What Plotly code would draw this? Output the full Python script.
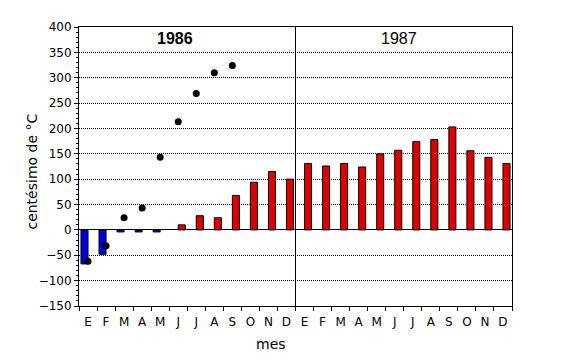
import plotly.graph_objects as go

months = ["E", "F", "M", "A", "M", "J", "J", "A", "S", "O", "N", "D"]
tick_labels = months + months
years = ["1986", "1987"]

# negative (blue) bars, 1986
neg_values = [-67, -48, -4, -4, -4, None, None, None, None, None, None, None] + [None] * 12
# positive (red) bars
pos_values = [None, None, None, None, None, 10, 28, 24, 68, 94, 115, 100,
              131, 126, 131, 124, 150, 157, 174, 178, 203, 156, 143, 131]
# black dots, 1986
dot_values = [-62, -31, 24, 43, 143, 213, 269, 310, 324]

x_idx = list(range(len(tick_labels)))
dot_x = list(range(len(dot_values)))
boundaries = [i - 0.5 for i in range(len(tick_labels) + 1)]

fig = go.Figure()
fig.add_trace(go.Bar(x=x_idx, y=neg_values, width=0.39, offset=-0.39,
                     marker=dict(color="#0000DD", line=dict(color="black", width=1)),
                     showlegend=False))
fig.add_trace(go.Bar(x=x_idx, y=pos_values, width=0.39, offset=0.0,
                     marker=dict(color="#DD0000", line=dict(color="black", width=1)),
                     showlegend=False))
fig.add_trace(go.Scatter(x=dot_x, y=dot_values, mode="markers",
                         marker=dict(color="black", size=7), showlegend=False))

fig.add_shape(type="line", xref="x", yref="paper", x0=11.5, x1=11.5, y0=0, y1=1,
              line=dict(color="black", width=1))

fig.add_annotation(x=4.8, y=377, xref="x", yref="y", text="<b>1986</b>", showarrow=False,
                   font=dict(family="Liberation Sans", size=16, color="black"))
fig.add_annotation(x=17.25, y=377, xref="x", yref="y", text="1987", showarrow=False,
                   font=dict(family="Liberation Sans", size=16, color="black"))

fig.add_annotation(x=-0.1087, y=0.4816, xref="paper", yref="paper", text="centésimo de °C",
                   textangle=-90, showarrow=False, xanchor="center", yanchor="middle",
                   font=dict(family="DejaVu Sans", size=14, color="black"))
fig.add_annotation(x=0.443, y=-0.137, xref="paper", yref="paper", text="mes",
                   showarrow=False, xanchor="center", yanchor="middle",
                   font=dict(family="DejaVu Sans", size=14, color="black"))

fig.update_layout(
    width=561, height=353,
    margin=dict(l=71, r=57, t=16.3, b=54.7),
    paper_bgcolor="white", plot_bgcolor="white",
    font=dict(family="DejaVu Sans", size=12, color="black"),
    barmode="overlay",
    xaxis=dict(range=[-0.5, 23.5], tickmode="array", tickvals=x_idx, ticktext=tick_labels,
               ticks="", ticklabelstandoff=5, showgrid=False, zeroline=False,
               showline=True, linecolor="black", linewidth=1, mirror=True),
    xaxis2=dict(range=[-0.5, 23.5], overlaying="x", side="bottom", anchor="y",
                tickmode="array", tickvals=boundaries, showticklabels=False,
                ticks="outside", ticklen=4, tickcolor="black", tickwidth=1,
                showgrid=False, zeroline=False, showline=False),
    yaxis=dict(range=[-150, 400], dtick=50, tick0=0, ticks="outside", ticklen=4,
               tickcolor="black", tickwidth=1,
               showgrid=True, gridcolor="black", griddash="1px,1px", gridwidth=1,
               zeroline=True, zerolinecolor="black", zerolinewidth=1,
               showline=True, linecolor="black", linewidth=1, mirror=True,
               minor=dict(dtick=10, ticks="outside", ticklen=2, tickcolor="black",
                          tickwidth=1, showgrid=False)),
)
fig.add_trace(go.Scatter(x=[None], y=[None], xaxis="x2", yaxis="y", showlegend=False,
                         hoverinfo="skip"))

fig.write_html("out.html")
